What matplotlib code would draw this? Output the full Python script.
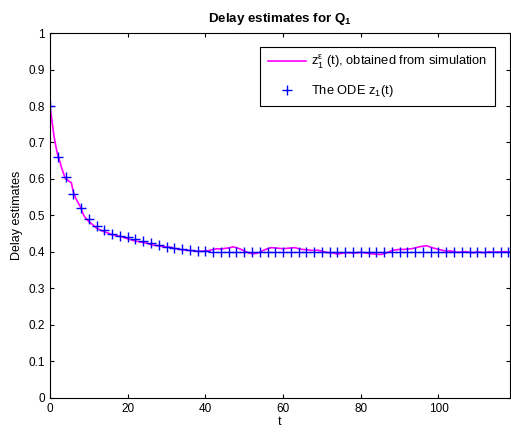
import matplotlib
matplotlib.use("Agg")
import matplotlib.pyplot as plt
import numpy as np

plt.rcParams['font.family'] = ['Liberation Sans', 'DejaVu Sans']
plt.rcParams['mathtext.fontset'] = 'custom'
plt.rcParams['mathtext.rm'] = 'Liberation Sans'
plt.rcParams['mathtext.it'] = 'Liberation Sans'
plt.rcParams['mathtext.bf'] = 'Liberation Sans:bold'

# simulated delay estimate (magenta)
sim_t = [0, 0.5, 1, 1.5, 2, 2.5, 3, 3.5, 4, 4.5, 5, 5.5, 6, 6.5, 7, 7.5, 8, 8.5, 9, 9.5,
         10, 11, 12, 13, 14, 15, 16, 17, 18, 19, 20, 21, 22, 23, 24, 25, 26, 27, 28, 29,
         30, 31, 32, 33, 34, 35, 36, 37, 38, 39, 40, 41, 42, 43, 44, 45, 46, 47, 48, 49,
         50, 51, 52, 53, 54, 55, 56, 57, 58, 59, 60, 61, 62, 63, 64, 65, 66, 67, 68, 69,
         70, 71, 72, 73, 74, 75, 76, 77, 78, 79, 80, 81, 82, 83, 84, 85, 86, 87, 88, 89,
         90, 91, 92, 93, 94, 95, 96, 97, 98, 99, 100, 101, 102, 103, 104, 105, 106, 107, 108, 109,
         110, 111, 112, 113, 114, 115, 116, 117, 118, 118.4]
sim_v = [0.80, 0.76, 0.72, 0.69, 0.665, 0.65, 0.63, 0.615, 0.60, 0.598, 0.593, 0.59, 0.565, 0.55, 0.54, 0.53, 0.52, 0.505, 0.495, 0.49,
         0.483, 0.475, 0.465, 0.46, 0.455, 0.452, 0.447, 0.445, 0.443, 0.44, 0.436, 0.433, 0.43, 0.428, 0.426, 0.424, 0.42, 0.418, 0.417, 0.415,
         0.414, 0.413, 0.41, 0.408, 0.406, 0.405, 0.404, 0.403, 0.402, 0.402, 0.403, 0.404, 0.407, 0.409, 0.408, 0.41, 0.411, 0.414, 0.412, 0.408,
         0.403, 0.398, 0.395, 0.396, 0.399, 0.405, 0.409, 0.412, 0.411, 0.41, 0.409, 0.41, 0.411, 0.412, 0.409, 0.407, 0.406, 0.405, 0.404, 0.405,
         0.402, 0.399, 0.398, 0.397, 0.394, 0.396, 0.398, 0.398, 0.397, 0.398, 0.399, 0.398, 0.396, 0.395, 0.394, 0.393, 0.395, 0.399, 0.404, 0.406,
         0.407, 0.407, 0.408, 0.409, 0.411, 0.414, 0.416, 0.417, 0.413, 0.41, 0.407, 0.405, 0.402, 0.403, 0.401, 0.399, 0.40, 0.401, 0.399, 0.398,
         0.40, 0.399, 0.398, 0.401, 0.399, 0.40, 0.40, 0.401, 0.40, 0.40]

# ODE solution (blue +), every 2 time units
ode_t = list(range(0, 120, 2))
ode_v = [0.80, 0.66, 0.605, 0.56, 0.52, 0.49, 0.472, 0.46, 0.45, 0.445,
         0.44, 0.435, 0.43, 0.425, 0.42, 0.415, 0.41, 0.407, 0.405, 0.403,
         0.402, 0.401] + [0.40] * 38

fig = plt.figure(figsize=(5.11, 4.36), dpi=100)
ax = fig.add_axes([0.0978, 0.0872, 0.9002, 0.8371])

ax.plot(sim_t, sim_v, color='#ff00ff', lw=1.2,
        label=r'z$_1^{\varepsilon}$ (t), obtained from simulation')
ax.plot(ode_t, ode_v, linestyle='none', marker='+', color='#0000ff',
        markersize=6.5, markeredgewidth=1.0, label='The ODE z$_1$(t)')

ax.set_xlim(0, 118.4)
ax.set_ylim(0, 1)
ax.set_xticks([0, 20, 40, 60, 80, 100])
ax.set_yticks(np.arange(0, 1.01, 0.1))
ax.set_yticklabels(['0', '0.1', '0.2', '0.3', '0.4', '0.5', '0.6', '0.7', '0.8', '0.9', '1'])
ax.tick_params(direction='in', top=True, right=True, labelsize=8.5, length=3, width=0.8)
for s in ax.spines.values():
    s.set_linewidth(0.8)

ax.set_xlabel('t', fontsize=9, labelpad=1)
ax.set_ylabel('Delay estimates', fontsize=9, labelpad=4)
ax.set_title(r'Delay estimates for Q$_\mathbf{1}$', fontsize=9.6, fontweight='bold', pad=8)

leg = ax.legend(loc='upper right', bbox_to_anchor=(0.967, 0.962), borderaxespad=0,
                fancybox=False, edgecolor='black', framealpha=1, fontsize=9.3,
                handlelength=3.0, handletextpad=0.4, borderpad=0.55, labelspacing=0.9)
leg.get_frame().set_linewidth(0.8)

fig.savefig('out.png', dpi=100)
